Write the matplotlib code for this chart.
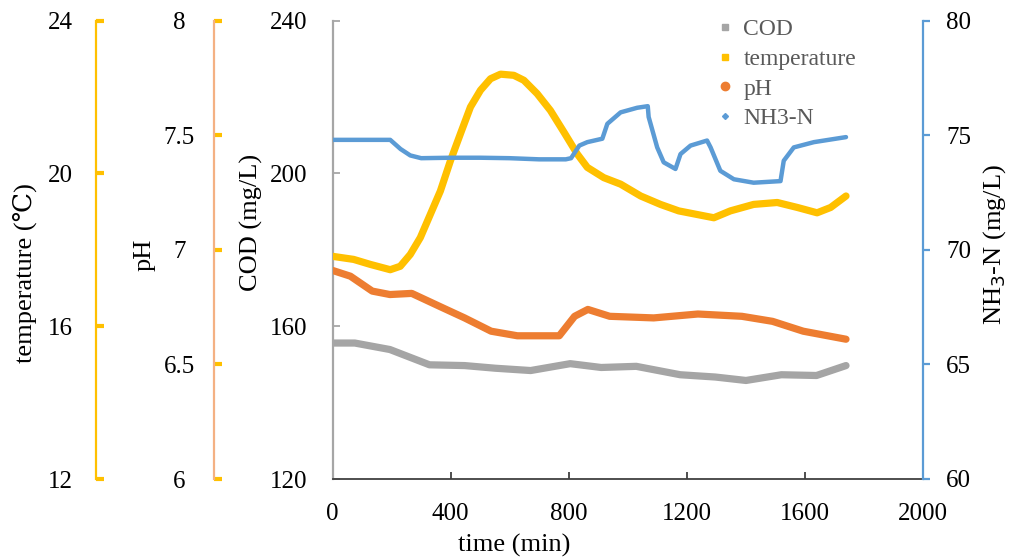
import matplotlib
matplotlib.use("Agg")
import matplotlib.pyplot as plt
from matplotlib.lines import Line2D

# ---------------- data ----------------
t_cod = [0, 75, 194, 328, 447, 552, 671, 805, 910, 1029, 1178, 1297, 1401, 1521, 1640, 1740]
cod = [155.6, 155.6, 153.9, 149.9, 149.7, 149.0, 148.4, 150.2, 149.2, 149.5, 147.3, 146.7,
       145.8, 147.3, 147.1, 149.7]

t_temp = [0, 71, 127, 195, 229, 263, 297, 331, 365, 399, 433, 467, 501, 535, 569, 614, 648,
          693, 738, 784, 829, 863, 919, 976, 1044, 1111, 1173, 1292, 1348, 1427, 1507, 1575,
          1642, 1688, 1740]
temp = [17.83, 17.75, 17.62, 17.48, 17.57, 17.88, 18.32, 18.93, 19.54, 20.33, 21.04, 21.74,
        22.18, 22.48, 22.6, 22.57, 22.44, 22.09, 21.65, 21.08, 20.51, 20.16, 19.89, 19.72,
        19.41, 19.19, 19.02, 18.84, 19.02, 19.19, 19.24, 19.11, 18.97, 19.11, 19.41]

t_ph = [0, 60, 134, 194, 268, 373, 447, 537, 626, 768, 820, 865, 939, 1088, 1238, 1387, 1491,
        1595, 1740]
ph = [6.91, 6.885, 6.82, 6.805, 6.81, 6.747, 6.703, 6.645, 6.625, 6.625, 6.71, 6.74, 6.71,
      6.703, 6.72, 6.71, 6.688, 6.645, 6.61]

t_nh3 = [0, 195, 230, 263, 300, 400, 500, 600, 700, 790, 808, 836, 863, 914, 931, 976, 1032,
         1068, 1071, 1100, 1122, 1162, 1179, 1213, 1269, 1281, 1314, 1360, 1427, 1518, 1529,
         1563, 1631, 1740]
nh3 = [74.8, 74.8, 74.4, 74.12, 74.0, 74.02, 74.02, 74.0, 73.95, 73.95, 74.0, 74.55, 74.7,
       74.85, 75.5, 76.0, 76.2, 76.27, 75.8, 74.47, 73.82, 73.53, 74.18, 74.55, 74.77, 74.47,
       73.45, 73.08, 72.93, 73.0, 73.89, 74.47, 74.7, 74.92]

x_ticks = [0, 400, 800, 1200, 1600, 2000]
cod_ticks = [120, 160, 200, 240]
temp_ticks = [12, 16, 20, 24]
ph_ticks = [6, 6.5, 7, 7.5, 8]
ph_ticklabels = ["6", "6.5", "7", "7.5", "8"]
nh3_ticks = [60, 65, 70, 75, 80]

series_names = ["COD", "temperature", "pH", "NH3-N"]

# ---------------- style ----------------
C_COD = "#A5A5A5"
C_TEMP = "#FFC000"
C_PH = "#ED7D31"
C_NH3 = "#5B9BD5"
FONT = ["Liberation Serif", "DejaVu Serif"]
plt.rcParams["font.family"] = FONT
TS = 18
LS = 19
LEGS = 17

W, H = 1010, 559
fig = plt.figure(figsize=(W / 100, H / 100), dpi=100)
x0, x1, ytop, ybot = 332.7, 922.7, 20.7, 479.0
ax = fig.add_axes([x0 / W, 1 - ybot / H, (x1 - x0) / W, (ybot - ytop) / H])

def fx(px):
    return (px - x0) / (x1 - x0)

# COD main axis
ax.plot(t_cod, cod, color=C_COD, lw=5.2, solid_capstyle="round", zorder=2)
ax.set_xlim(0, 2000)
ax.set_ylim(120, 240)
ax.set_xticks(x_ticks)
ax.set_yticks(cod_ticks)
ax.spines["top"].set_visible(False)
ax.spines["right"].set_visible(False)
ax.spines["left"].set_color("#A6A6A6")
ax.spines["left"].set_linewidth(1.6)
ax.spines["bottom"].set_color("#404040")
ax.spines["bottom"].set_linewidth(1.3)
ax.tick_params(axis="y", direction="in", length=5, width=1.3, color="#A6A6A6",
               labelsize=TS, pad=18)
ax.tick_params(axis="x", direction="in", length=5, width=1.3, color="#404040",
               labelsize=TS, pad=17)
ax.set_zorder(3)
ax.patch.set_visible(False)

# temperature axis
ax_t = ax.twinx()
ax_t.plot(t_temp, temp, color=C_TEMP, lw=5.2, solid_capstyle="round")
ax_t.set_ylim(12, 24)
ax_t.set_yticks(temp_ticks)
for s in ["top", "right", "bottom"]:
    ax_t.spines[s].set_visible(False)
ax_t.spines["left"].set_visible(True)
ax_t.spines["left"].set_position(("axes", fx(96)))
ax_t.spines["left"].set_color(C_TEMP)
ax_t.spines["left"].set_linewidth(1.6)
ax_t.yaxis.set_ticks_position("left")
ax_t.tick_params(axis="y", direction="in", length=6, width=3, color=C_TEMP,
                 labelsize=TS, pad=17)

# pH axis
ax_p = ax.twinx()
ax_p.plot(t_ph, ph, color=C_PH, lw=5.2, solid_capstyle="round")
ax_p.set_ylim(6, 8)
ax_p.set_yticks(ph_ticks)
ax_p.set_yticklabels(ph_ticklabels)
for s in ["top", "right", "bottom"]:
    ax_p.spines[s].set_visible(False)
ax_p.spines["left"].set_visible(True)
ax_p.spines["left"].set_position(("axes", fx(214)))
ax_p.spines["left"].set_color("#F4B183")
ax_p.spines["left"].set_linewidth(1.6)
ax_p.yaxis.set_ticks_position("left")
ax_p.tick_params(axis="y", direction="in", length=6, width=3, color=C_TEMP,
                 labelsize=TS, pad=25)
for lab in ax_p.get_yticklabels():
    lab.set_horizontalalignment("center")

# NH3-N axis
ax_n = ax.twinx()
ax_n.plot(t_nh3, nh3, color=C_NH3, lw=3.2, solid_capstyle="round")
ax_n.set_ylim(60, 80)
ax_n.set_yticks(nh3_ticks)
for s in ["top", "left", "bottom"]:
    ax_n.spines[s].set_visible(False)
ax_n.spines["right"].set_color(C_NH3)
ax_n.spines["right"].set_linewidth(1.6)
ax_n.tick_params(axis="y", direction="out", length=5, width=1.6, color=C_NH3,
                 labelsize=TS, pad=12)

ax.set_xlim(0, 2000)

# axis labels
fig.text(25 / W, 1 - 273 / H, "temperature (℃)", rotation=90, ha="center", va="center",
         fontsize=LS, family=FONT)
fig.text(145 / W, 1 - 255 / H, "pH", rotation=90, ha="center", va="center", fontsize=LS)
fig.text(251 / W, 1 - 222 / H, "COD (mg/L)", rotation=90, ha="center", va="center",
         fontsize=LS)
fig.text(995 / W, 1 - 245 / H, "NH$_3$-N (mg/L)", rotation=90, ha="center", va="center",
         fontsize=LS)
fig.text(514 / W, 1 - 545 / H, "time (min)", ha="center", va="center", fontsize=LS)

# legend
handles = [
    Line2D([], [], ls="none", marker="s", markersize=4, color=C_COD),
    Line2D([], [], ls="none", marker="s", markersize=4, color=C_TEMP),
    Line2D([], [], ls="none", marker="o", markersize=6, color=C_PH),
    Line2D([], [], ls="none", marker="D", markersize=3, color=C_NH3),
]
leg = ax_n.legend(handles, series_names, loc="upper left",
                  bbox_to_anchor=(701 / W, 1 - 2 / H), bbox_transform=fig.transFigure,
                  frameon=False, fontsize=LEGS, handlelength=0.6, handletextpad=0.5,
                  labelspacing=0.35, borderpad=0.2)
for txt in leg.get_texts():
    txt.set_color("#595959")

fig.savefig("out.png", dpi=100)
